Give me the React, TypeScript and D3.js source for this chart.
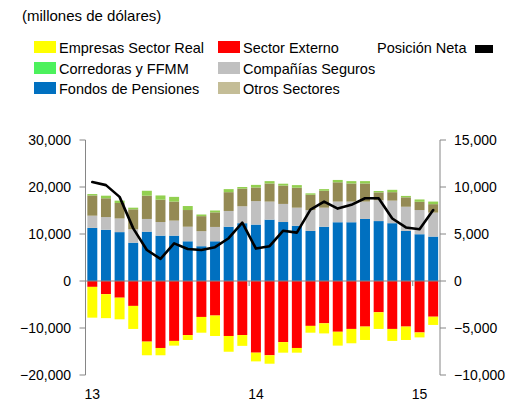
import React from "react";
import * as d3 from "d3";

const months = [
  "Ene-13", "Feb-13", "Mar-13", "Abr-13", "May-13", "Jun-13", "Jul-13", "Ago-13", "Sep-13", "Oct-13", "Nov-13", "Dic-13",
  "Ene-14", "Feb-14", "Mar-14", "Abr-14", "May-14", "Jun-14", "Jul-14", "Ago-14", "Sep-14", "Oct-14", "Nov-14", "Dic-14",
  "Ene-15", "Feb-15",
];
const yearLabels = ["13", "14", "15"];
const yearIdx = [0, 12, 24];

const fondosPensiones = [11300, 10900, 10400, 8150, 10500, 9650, 9650, 8450, 7400, 8450, 11550, 12300, 12000, 13050, 12550, 11750, 10650, 11550, 12500, 12500, 13200, 12750, 12300, 10650, 9950, 9450];
const companiasSeguros = [2600, 2700, 2900, 2850, 2700, 2900, 3200, 3100, 3200, 3050, 3350, 3600, 5000, 3850, 3850, 3850, 4450, 4050, 4400, 4400, 3700, 4450, 4800, 5150, 5150, 5100];
const otrosSectores = [4300, 4000, 3300, 4250, 4950, 4750, 4050, 3550, 3200, 3100, 4000, 3750, 2900, 3850, 3900, 4250, 3250, 3600, 4100, 3850, 3850, 1650, 1800, 2000, 1750, 1800];
const corredorasFFMM = [300, 550, 500, 350, 1050, 900, 1000, 850, 350, 400, 650, 350, 550, 500, 400, 550, 300, 350, 500, 500, 500, 300, 500, 300, 500, 550];
const sectorExterno = [-1250, -2800, -3550, -5300, -12900, -14250, -12750, -11500, -7650, -7350, -11700, -11500, -15250, -15800, -13000, -14250, -9550, -9000, -10800, -10200, -9700, -6650, -10200, -9700, -10950, -7600];
const empresasSectorReal = [-6550, -5100, -4600, -4900, -2900, -1550, -1000, -1050, -3350, -4350, -3350, -2300, -1850, -1800, -2250, -1000, -1450, -2150, -2950, -3050, -2850, -3550, -2550, -2850, -1050, -1750];
const posicionNeta = [10530, 10200, 8950, 5600, 3300, 2350, 4000, 3400, 3300, 3600, 4550, 6200, 3450, 3700, 5350, 5150, 7600, 8450, 7700, 8100, 8800, 8800, 6650, 5700, 5500, 7550];

const leftTicks = [-20000, -10000, 0, 10000, 20000, 30000];
const rightTicks = [-10000, -5000, 0, 5000, 10000, 15000];

const keys = ["fondos", "seguros", "otros", "corredoras", "externo", "empresas"];
const barColors: Record<string, string> = {
  fondos: "#0070C0",
  seguros: "#C0C0C0",
  otros: "#948A54",
  corredoras: "#92D050",
  externo: "#FF0000",
  empresas: "#FFFF00",
};

const legendItems = [
  { label: "Empresas Sector Real", color: "#FFFF00", col: 0, row: 0 },
  { label: "Sector Externo", color: "#FF0000", col: 1, row: 0 },
  { label: "Corredoras y FFMM", color: "#4CF15C", col: 0, row: 1 },
  { label: "Compañías Seguros", color: "#C0C0C0", col: 1, row: 1 },
  { label: "Fondos de Pensiones", color: "#0070C0", col: 0, row: 2 },
  { label: "Otros Sectores", color: "#C4BD97", col: 1, row: 2 },
];

export default function App() {
  const W = 515, H = 403;
  const left = 85.5, right = 440;
  const axisColor = "#868686";
  const font = "'Liberation Sans', Arial, sans-serif";

  const x = d3.scaleBand<string>().domain(months).range([left, right]).paddingInner(0.27).paddingOuter(0.135);
  const yL = d3.scaleLinear().domain([-20000, 30000]).range([375, 140]);
  const yR = d3.scaleLinear().domain([-10000, 15000]).range([375, 140]);
  const bw = x.bandwidth();

  const table = months.map((m, i) => ({
    month: m,
    fondos: fondosPensiones[i],
    seguros: companiasSeguros[i],
    otros: otrosSectores[i],
    corredoras: corredorasFFMM[i],
    externo: sectorExterno[i],
    empresas: empresasSectorReal[i],
  }));
  const series = d3.stack<any>().keys(keys).offset(d3.stackOffsetDiverging)(table);

  const line = d3.line<number>()
    .x((_, i) => (x(months[i]) as number) + bw / 2)
    .y((d) => yR(d));

  const fmt = d3.format(",");
  const y0 = yL(0);
  const step = x.step();

  const colX = [34, 218];
  const rowY = [53, 74, 94];

  return (
    <svg width={W} height={H} style={{ position: "absolute", left: 0, top: 0, background: "#fff" }} fontFamily={font}>
      <text x={22} y={21} fontSize={15} fill="#000">(millones de dólares)</text>
      {legendItems.map((it) => (
        <g key={it.label}>
          <rect x={colX[it.col]} y={rowY[it.row] - 12} width={22} height={12} fill={it.color} />
          <text x={colX[it.col] + 25} y={rowY[it.row]} fontSize={14.5} fill="#000">{it.label}</text>
        </g>
      ))}
      <text x={377} y={53} fontSize={14.5} fill="#000">Posición Neta</text>
      <rect x={475} y={45} width={18} height={8} fill="#000" />

      {series.map((s) => (
        <g key={s.key} fill={barColors[s.key]}>
          {s.map((d, i) => (
            <rect
              key={i}
              x={x(months[i])}
              y={yL(Math.max(d[0], d[1]))}
              width={bw}
              height={Math.abs(yL(d[0]) - yL(d[1]))}
            />
          ))}
        </g>
      ))}

      <line x1={left} x2={right} y1={y0} y2={y0} stroke={axisColor} strokeWidth={1} />
      {[12, 24].map((i) => {
        const bx = (x(months[i]) as number) - (step * x.paddingInner()) / 2;
        return <line key={i} x1={bx} x2={bx} y1={y0} y2={y0 + 5} stroke={axisColor} />;
      })}

      <path d={line(posicionNeta) || ""} fill="none" stroke="#000" strokeWidth={2.6} strokeLinejoin="round" strokeLinecap="round" />

      <line x1={left} x2={left} y1={yL(30000)} y2={yL(-20000)} stroke={axisColor} />
      {leftTicks.map((t) => (
        <g key={t}>
          <line x1={left - 6} x2={left} y1={yL(t)} y2={yL(t)} stroke={axisColor} />
          <text x={71} y={yL(t)} dy="0.35em" textAnchor="end" fontSize={14} fill="#000">{fmt(t)}</text>
        </g>
      ))}
      <line x1={right} x2={right} y1={yR(15000)} y2={yR(-10000)} stroke={axisColor} />
      {rightTicks.map((t) => (
        <g key={t}>
          <line x1={right} x2={right + 6} y1={yR(t)} y2={yR(t)} stroke={axisColor} />
          <text x={454} y={yR(t)} dy="0.35em" textAnchor="start" fontSize={14} fill="#000">{fmt(t)}</text>
        </g>
      ))}

      {yearIdx.map((i, k) => (
        <text key={k} x={(x(months[i]) as number) + bw / 2} y={399} textAnchor="middle" fontSize={14} fill="#000">{yearLabels[k]}</text>
      ))}
    </svg>
  );
}
